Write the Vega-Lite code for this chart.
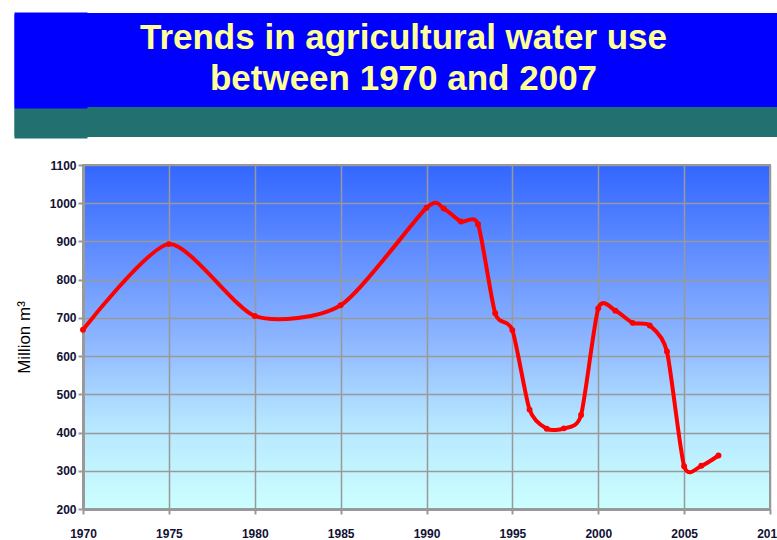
{
  "$schema": "https://vega.github.io/schema/vega-lite/v6.json",
  "background": "white",
  "padding": {"left": 12, "top": 11, "right": 0, "bottom": 0},
  "config": {"view": {"stroke": null}},
  "spacing": 20,
  "vconcat": [
    {
      "width": 695,
      "height": 124,
      "view": {
        "stroke": null,
        "fill": {
          "gradient": "linear",
          "x1": 0, "y1": 0, "x2": 0, "y2": 1,
          "stops": [
            {"offset": 0, "color": "#0000ff"},
            {"offset": 0.758, "color": "#0000ff"},
            {"offset": 0.758, "color": "#237070"},
            {"offset": 1, "color": "#237070"}
          ]
        }
      },
      "data": {"values": [{"title": "Trends in agricultural water use\nbetween 1970 and 2007"}]},
      "mark": {"type": "text", "font": "Liberation Sans", "fontWeight": "bold", "fontSize": 35, "color": "#ffff99", "lineBreak": "\n", "lineHeight": 41, "align": "center", "baseline": "middle", "dy": -37, "dx": -27},
      "encoding": {
        "text": {"field": "title"},
        "y": {
          "datum": 62,
          "type": "quantitative",
          "scale": {"domain": [0, 124], "nice": false, "zero": false},
          "axis": {
            "title": null,
            "labels": false,
            "domain": false,
            "grid": false,
            "offset": -4,
            "values": [1, 3, 5, 7, 9, 11, 13, 15, 17, 19, 21, 23, 25, 27, 29, 31, 33, 35, 37, 39, 41, 43, 45, 47, 49, 51, 53, 55, 57, 59, 61, 63, 65, 67, 69, 71, 73, 75, 77, 79, 81, 83, 85, 87, 89, 91, 93, 95, 97, 99, 101, 103, 105, 107, 109, 111, 113, 115, 117, 119, 121, 123],
            "tickSize": 73,
            "tickRound": false,
            "tickWidth": 4,
            "tickColor": {"condition": {"test": "datum.value < 30", "value": "#237070"}, "value": "#0000ff"}
          }
        }
      }
    },
    {
      "width": 687,
      "height": 344,
      "view": {
        "stroke": "#999999",
        "strokeWidth": 2,
        "fill": {
          "gradient": "linear",
          "x1": 0, "y1": 0, "x2": 0, "y2": 1,
          "stops": [
            {"offset": 0, "color": "#3366ff"},
            {"offset": 0.5, "color": "#8cb4ff"},
            {"offset": 0.75, "color": "#b6e6ff"},
            {"offset": 1, "color": "#ccffff"}
          ]
        }
      },
      "data": {
        "values": [
          {"year": 1970, "value": 669},
          {"year": 1975, "value": 893},
          {"year": 1980, "value": 705},
          {"year": 1985, "value": 733},
          {"year": 1990, "value": 988},
          {"year": 1991, "value": 986},
          {"year": 1992, "value": 952},
          {"year": 1993, "value": 945},
          {"year": 1994, "value": 712},
          {"year": 1995, "value": 668},
          {"year": 1996, "value": 460},
          {"year": 1997, "value": 410},
          {"year": 1998, "value": 411},
          {"year": 1999, "value": 446},
          {"year": 2000, "value": 725},
          {"year": 2001, "value": 719},
          {"year": 2002, "value": 687},
          {"year": 2003, "value": 680},
          {"year": 2004, "value": 612},
          {"year": 2005, "value": 312},
          {"year": 2006, "value": 313},
          {"year": 2007, "value": 340}
        ]
      },
      "mark": {
        "type": "line",
        "interpolate": "cardinal",
        "tension": 0.3,
        "color": "#ff0000",
        "strokeWidth": 4,
        "point": {"filled": true, "size": 35, "color": "#ff0000"}
      },
      "encoding": {
        "x": {
          "field": "year",
          "type": "quantitative",
          "scale": {"domain": [1970, 2010], "nice": false, "zero": false},
          "axis": {
            "title": null,
            "values": [1970, 1975, 1980, 1985, 1990, 1995, 2000, 2005, 2010],
            "format": "d",
            "labelFont": "Liberation Sans",
            "labelFontWeight": "bold",
            "labelFontSize": 12,
            "labelColor": "#111133",
            "labelPadding": 14,
            "labelFlush": false,
            "tickColor": "#999999",
            "tickSize": 5,
            "tickWidth": 2,
            "domainColor": "#999999",
            "domainWidth": 3,
            "gridColor": "#999999",
            "gridWidth": 1.5,
            "gridOpacity": 1
          }
        },
        "y": {
          "field": "value",
          "type": "quantitative",
          "scale": {"domain": [200, 1100], "nice": false, "zero": false},
          "axis": {
            "title": "Million m³",
            "titleFont": "Liberation Sans",
            "titleFontSize": 17,
            "titleFontWeight": "normal",
            "titleColor": "#000000",
            "titlePadding": 16,
            "values": [200, 300, 400, 500, 600, 700, 800, 900, 1000, 1100],
            "format": "d",
            "labelFont": "Liberation Sans",
            "labelFontWeight": "bold",
            "labelFontSize": 12,
            "labelColor": "#111133",
            "labelPadding": 2,
            "tickColor": "#999999",
            "tickSize": 5,
            "tickWidth": 2,
            "domainColor": "#999999",
            "domainWidth": 3,
            "gridColor": "#999999",
            "gridWidth": 1.5,
            "gridOpacity": 1
          }
        }
      }
    }
  ]
}
